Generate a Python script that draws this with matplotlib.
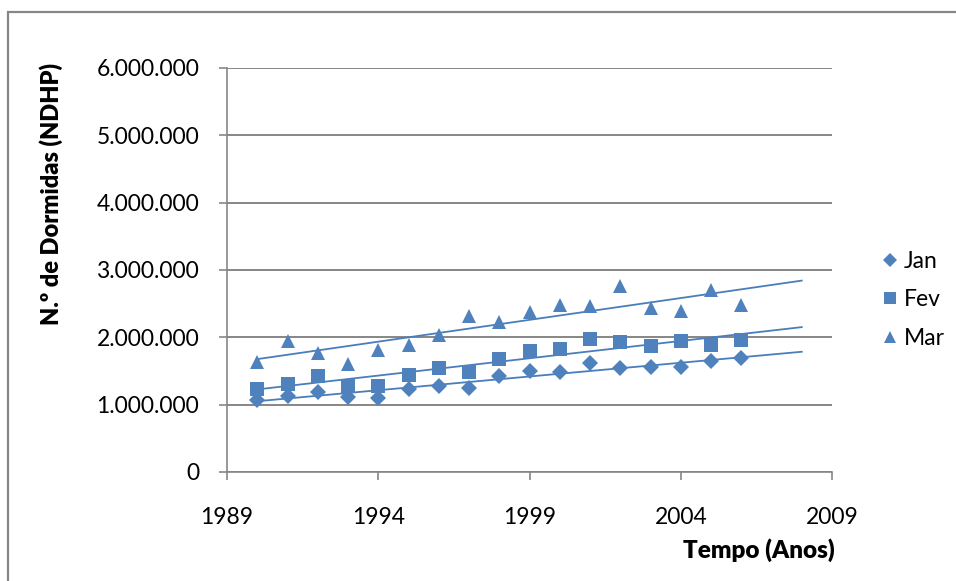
import matplotlib.pyplot as plt
import numpy as np
from matplotlib.lines import Line2D
from matplotlib.patches import Rectangle
from matplotlib.ticker import FuncFormatter

plt.rcParams.update({
    "font.family": ["Lato", "DejaVu Sans"],
    "font.size": 16,
})

BLUE = "#4F81BD"
LINE = "#4A7EBB"
GRID = "#868686"

YEARS = list(range(1990, 2007))
JAN = [1.07, 1.13, 1.19, 1.12, 1.10, 1.24, 1.27, 1.25, 1.43, 1.50,
       1.49, 1.62, 1.55, 1.56, 1.56, 1.65, 1.69]
FEV = [1.23, 1.31, 1.42, 1.28, 1.28, 1.44, 1.55, 1.48, 1.68, 1.79,
       1.82, 1.98, 1.93, 1.87, 1.94, 1.88, 1.96]
MAR = [1.63, 1.94, 1.77, 1.61, 1.81, 1.89, 2.03, 2.32, 2.23, 2.37,
       2.48, 2.47, 2.76, 2.43, 2.39, 2.70, 2.48]
SERIES = [("Jan", JAN, "D", 8.5), ("Fev", FEV, "s", 9.5), ("Mar", MAR, "^", 10.5)]
FORECAST = 2  # trendline extended 2 years forward


def thousands(v, _):
    return f"{int(round(v)):,}".replace(",", ".")


fig = plt.figure(figsize=(9.56, 5.81), dpi=100)
W, H = 956, 581
ax = fig.add_axes([227 / W, 1 - 472 / H, (832 - 227) / W, (472 - 68) / H])

x = np.array(YEARS, dtype=float)
handles = []
for name, vals, mk, ms in SERIES:
    y = np.array(vals) * 1e6
    ax.plot(x, y, linestyle="none", marker=mk, markersize=ms, color=BLUE,
            markeredgewidth=0, zorder=3)
    slope, icpt = np.polyfit(x, y, 1)
    xt = np.array([x[0], x[-1] + FORECAST])
    ax.plot(xt, slope * xt + icpt, color=LINE, linewidth=1.3, zorder=2)
    handles.append(Line2D([0], [0], marker=mk, color=BLUE, linestyle="none",
                          markersize=ms * 0.85, markeredgewidth=0, label=name))

ax.set_xlim(1989, 2009)
ax.set_ylim(0, 6e6)
ax.set_xticks(range(1989, 2010, 5))
ax.set_yticks(np.arange(0, 6.5e6, 1e6))
ax.yaxis.set_major_formatter(FuncFormatter(thousands))
ax.grid(axis="y", color=GRID, linewidth=1.4)
ax.set_axisbelow(True)
for s in ("top", "right"):
    ax.spines[s].set_visible(False)
for s in ("left", "bottom"):
    ax.spines[s].set_color(GRID)
    ax.spines[s].set_linewidth(1.2)
ax.tick_params(axis="both", colors=GRID, labelcolor="black", length=6,
               width=1.2, labelsize=16.5)
ax.tick_params(axis="y", pad=14)
ax.tick_params(axis="x", pad=19)

fig.text(51 / W, 1 - 194 / H, "N.º de Dormidas (NDHP)", rotation=90,
         ha="center", va="center", fontsize=17, fontweight="heavy")
fig.text(835 / W, 1 - 550 / H, "Tempo (Anos)", ha="right", va="center",
         fontsize=17.5, fontweight="heavy")

fig.legend(handles=handles, loc="center left",
           bbox_to_anchor=(872 / W, 1 - 300 / H), frameon=False,
           fontsize=16.5, handlelength=0.6, handletextpad=0.3,
           labelspacing=0.75, borderpad=0)

fig.patches.append(Rectangle((8 / W, -0.1), 1.2, 1 - 12 / H + 0.1,
                             transform=fig.transFigure, fill=False,
                             edgecolor=GRID, linewidth=1.6))

fig.savefig("out.png", dpi=100, facecolor="white")
